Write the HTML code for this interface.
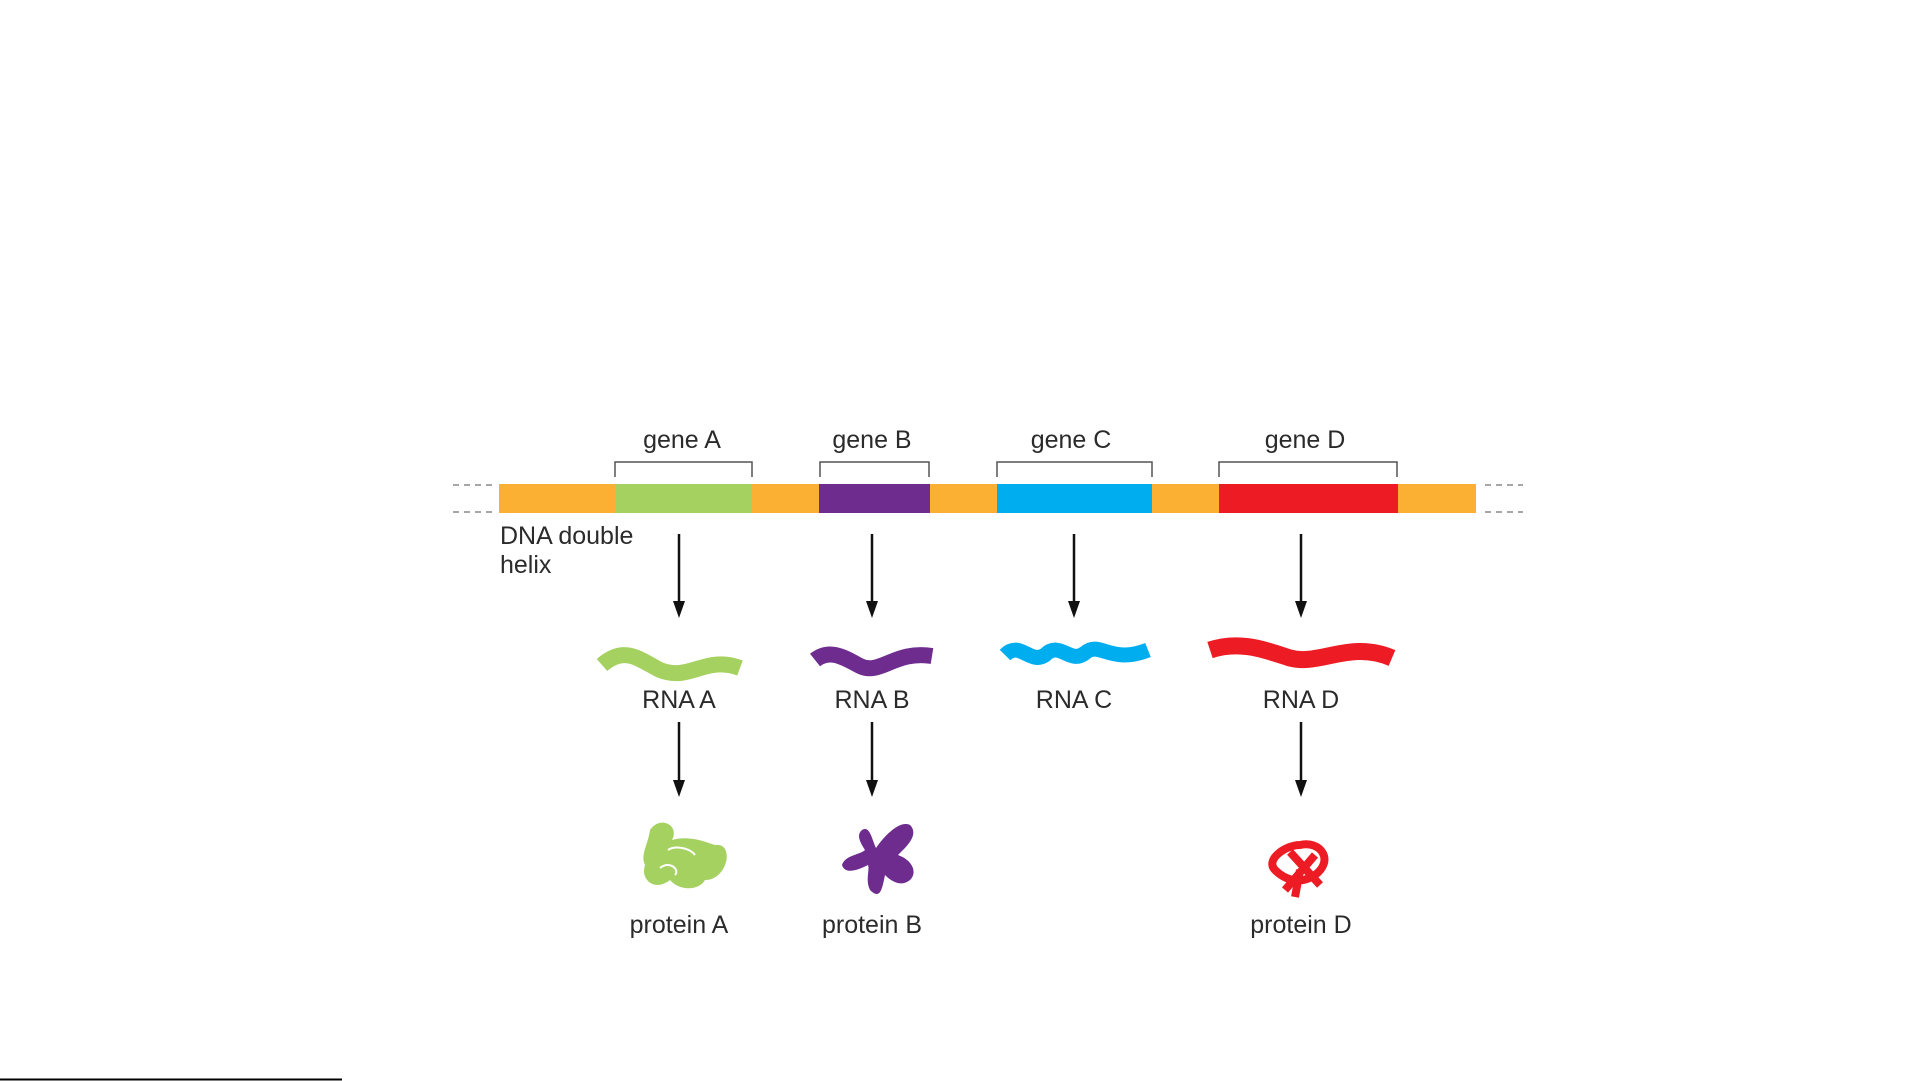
<!DOCTYPE html>
<html><head><style>
html,body{margin:0;padding:0;background:#fff;}
body{width:1921px;height:1081px;overflow:hidden;position:relative;}
svg{position:absolute;left:0;top:0;}
text{font-family:"Liberation Sans Narrow","Liberation Sans",sans-serif;font-size:25px;fill:#2b2b2b;}
</style></head><body>
<svg width="1921" height="1081" viewBox="0 0 1921 1081">
<g stroke="#888" stroke-width="1.5" stroke-dasharray="6,5">
<line x1="453" y1="485" x2="492" y2="485"/><line x1="453" y1="512" x2="492" y2="512"/>
<line x1="1485" y1="485" x2="1523" y2="485"/><line x1="1485" y1="512" x2="1523" y2="512"/>
</g>
<rect x="499" y="484" width="977" height="29" fill="#fbb034"/>
<rect x="615" y="484" width="137" height="29" fill="#a5d160"/>
<rect x="819" y="484" width="111" height="29" fill="#6f2c8f"/>
<rect x="997" y="484" width="155" height="29" fill="#00aeef"/>
<rect x="1219" y="484" width="179" height="29" fill="#ed1c24"/>
<g fill="none" stroke="#555" stroke-width="1.5">
<path d="M615,477 V462 H752 V477"/><path d="M820,477 V462 H929 V477"/>
<path d="M997,477 V462 H1152 V477"/><path d="M1219,477 V462 H1397 V477"/>
</g>
<g text-anchor="middle">
<text x="682" y="448">gene A</text><text x="872" y="448">gene B</text>
<text x="1071" y="448">gene C</text><text x="1305" y="448">gene D</text>
<text x="679" y="708">RNA A</text><text x="872" y="708">RNA B</text>
<text x="1074" y="708">RNA C</text><text x="1301" y="708">RNA D</text>
<text x="679" y="933">protein A</text><text x="872" y="933">protein B</text>
<text x="1301" y="933">protein D</text>
</g>
<text x="500" y="544">DNA double</text><text x="500" y="573">helix</text>
<g stroke="#111" stroke-width="2.5">
<line x1="679" y1="534" x2="679" y2="605"/><line x1="872" y1="534" x2="872" y2="605"/>
<line x1="1074" y1="534" x2="1074" y2="605"/><line x1="1301" y1="534" x2="1301" y2="605"/>
<line x1="679" y1="722" x2="679" y2="784"/><line x1="872" y1="722" x2="872" y2="784"/>
<line x1="1301" y1="722" x2="1301" y2="784"/>
</g>
<g fill="#111">
<path d="M673,601 h12 l-6,17 z"/><path d="M866,601 h12 l-6,17 z"/>
<path d="M1068,601 h12 l-6,17 z"/><path d="M1295,601 h12 l-6,17 z"/>
<path d="M673,780 h12 l-6,17 z"/><path d="M866,780 h12 l-6,17 z"/>
<path d="M1295,780 h12 l-6,17 z"/>
</g>
<g fill="none" stroke-width="14" stroke-linecap="butt">
<path d="M602,665 C625,645 640,660 660,670 C690,682 705,655 740,668" stroke="#a5d160" stroke-width="16"/>
<path d="M815,660 C830,648 845,658 860,666 C880,676 895,650 932,656" stroke="#6f2c8f" stroke-width="16"/>
<path d="M1005,655 C1020,640 1030,665 1045,655 C1060,640 1070,665 1085,653 C1100,640 1110,665 1148,650" stroke="#00aeef" stroke-width="15"/>
<path d="M1210,650 C1240,640 1265,650 1290,658 C1320,666 1350,640 1392,658" stroke="#ed1c24" stroke-width="17"/>
</g>
<g fill="#a5d160">
<path d="M650,830 C660,815 680,825 672,840 C690,835 705,842 715,845 C735,842 728,880 705,880 C700,890 680,892 670,880 C655,892 640,880 645,865 C640,855 648,845 650,830 Z"/>
</g>
<path d="M668,850 C675,845 690,848 695,855 M660,868 C670,860 680,870 675,875" stroke="#fff" stroke-width="2" fill="none"/>
<g fill="#6f2c8f">
<path d="M862,830 C870,825 872,840 876,848 C885,835 900,820 910,825 C920,835 905,848 898,855 C912,860 918,872 910,880 C900,888 890,880 885,875 C882,890 880,900 870,890 C865,880 870,870 868,865 C858,870 845,875 842,865 C845,855 860,855 865,850 C860,842 856,835 862,830 Z"/>
</g>
<g fill="none" stroke="#ed1c24" stroke-width="8">
<path d="M1300,845 C1320,840 1335,860 1315,875 C1300,885 1285,880 1275,870 C1265,860 1285,845 1300,845 Z"/>
<path d="M1290,852 L1320,885 M1315,855 L1285,890 M1300,870 L1295,897"/>
</g>
<line x1="0" y1="1079.5" x2="342" y2="1079.5" stroke="#000" stroke-width="2"/>
</svg>
</body></html>
